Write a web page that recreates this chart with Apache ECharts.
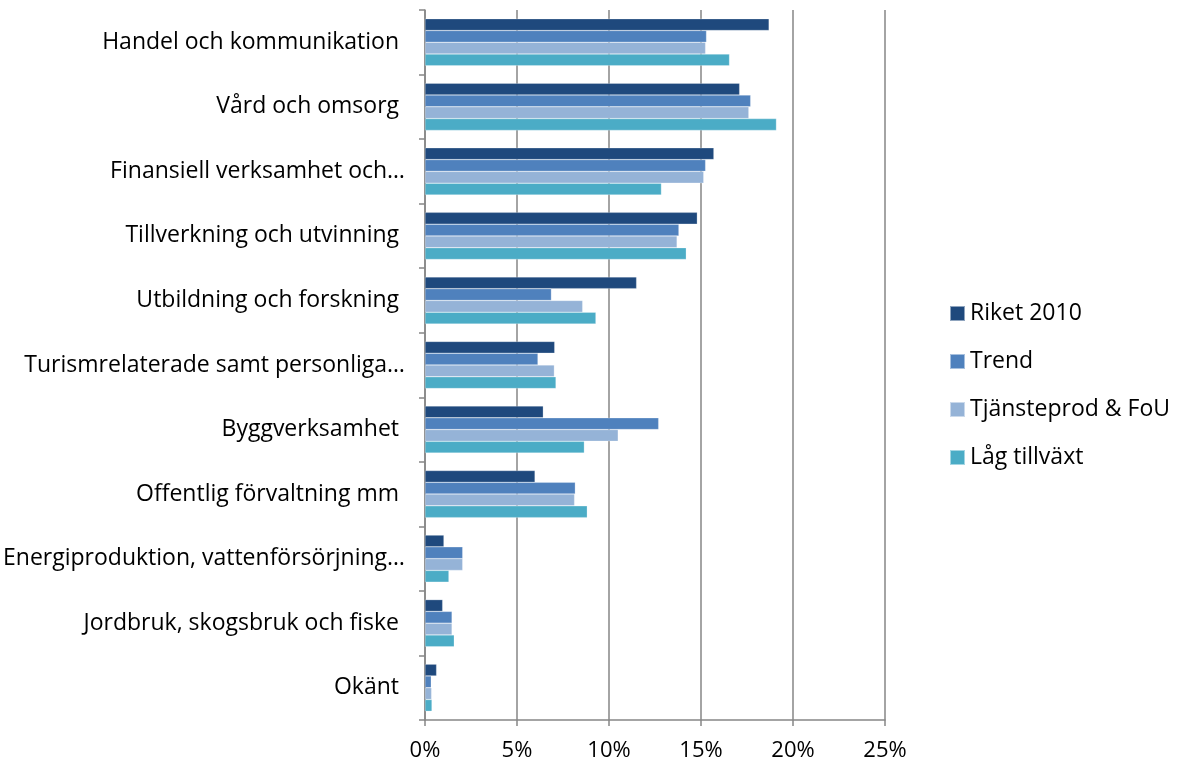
<!DOCTYPE html>
<html>
<head>
<meta charset="utf-8">
<script src="https://cdn.jsdelivr.net/npm/echarts@6/dist/echarts.min.js"></script>
<style>
  html, body { margin: 0; padding: 0; background: #fff; }
  #chart { width: 1181px; height: 767px; }
</style>
</head>
<body>
<div id="chart"></div>
<script>
// branscher (uppifrån och ned)
var categories = [
  "Handel och kommunikation ",
  "Vård och omsorg ",
  "Finansiell verksamhet och…",
  "Tillverkning och utvinning ",
  "Utbildning och forskning ",
  "Turismrelaterade samt personliga…",
  "Byggverksamhet ",
  "Offentlig förvaltning mm ",
  "Energiproduktion, vattenförsörjning…",
  "Jordbruk, skogsbruk och fiske ",
  "Okänt "
];
var seriesNames = ["Riket 2010", "Trend", "Tjänsteprod & FoU", "Låg tillväxt"];
// andel i procent
var riket2010 = [18.7, 17.1, 15.7, 14.8, 11.5, 7.05, 6.43, 5.98, 1.03, 0.96, 0.63];
var trend = [15.3, 17.7, 15.25, 13.8, 6.87, 6.14, 12.7, 8.17, 2.05, 1.47, 0.34];
var tjansteprod = [15.25, 17.6, 15.15, 13.7, 8.57, 7.03, 10.5, 8.13, 2.05, 1.47, 0.36];
var lagTillvaxt = [16.55, 19.1, 12.85, 14.2, 9.29, 7.12, 8.66, 8.82, 1.3, 1.59, 0.38];
var xTicks = [0, 5, 10, 15, 20, 25];

var colors = ["#1F497D", "#4F81BD", "#95B3D7", "#4BACC6"];
var font = "'Open Sans', sans-serif";

var myChart = echarts.init(document.getElementById("chart"));
var data = [riket2010, trend, tjansteprod, lagTillvaxt];

var option = {
  animation: false,
  color: colors,
  grid: { left: 425, right: 296, top: 10, bottom: 47 },
  legend: {
    orient: "vertical",
    left: 944,
    top: 297,
    itemWidth: 15,
    itemHeight: 15,
    itemGap: 25,
    icon: "rect",
    selectedMode: false,
    textStyle: { fontFamily: font, fontSize: 23, color: "#000" },
    data: seriesNames
  },
  xAxis: {
    type: "value",
    min: xTicks[0],
    max: xTicks[xTicks.length - 1],
    interval: 5,
    axisLine: { show: true, lineStyle: { color: "#868686", width: 1.5 } },
    axisTick: { show: true, length: 6, lineStyle: { color: "#868686", width: 1.5 } },
    splitLine: { show: true, lineStyle: { color: "#868686", width: 1.5 } },
    axisLabel: {
      fontFamily: font,
      fontSize: 22,
      color: "#000",
      margin: 20,
      formatter: function (v) { return v + "%"; }
    }
  },
  yAxis: {
    type: "category",
    inverse: true,
    data: categories,
    axisLine: { show: true, lineStyle: { color: "#868686", width: 1.5 } },
    axisTick: { show: true, length: 6, lineStyle: { color: "#868686", width: 1.5 } },
    axisLabel: { fontFamily: font, fontSize: 23, color: "#000", margin: 20 }
  },
  series: seriesNames.map(function (name, i) {
    return {
      name: name,
      type: "bar",
      data: data[i],
      barGap: "0%",
      barCategoryGap: "27%",
      itemStyle: { borderColor: "rgba(255,255,255,0.5)", borderWidth: 0.5 }
    };
  })
};

myChart.setOption(option);
</script>
</body>
</html>
